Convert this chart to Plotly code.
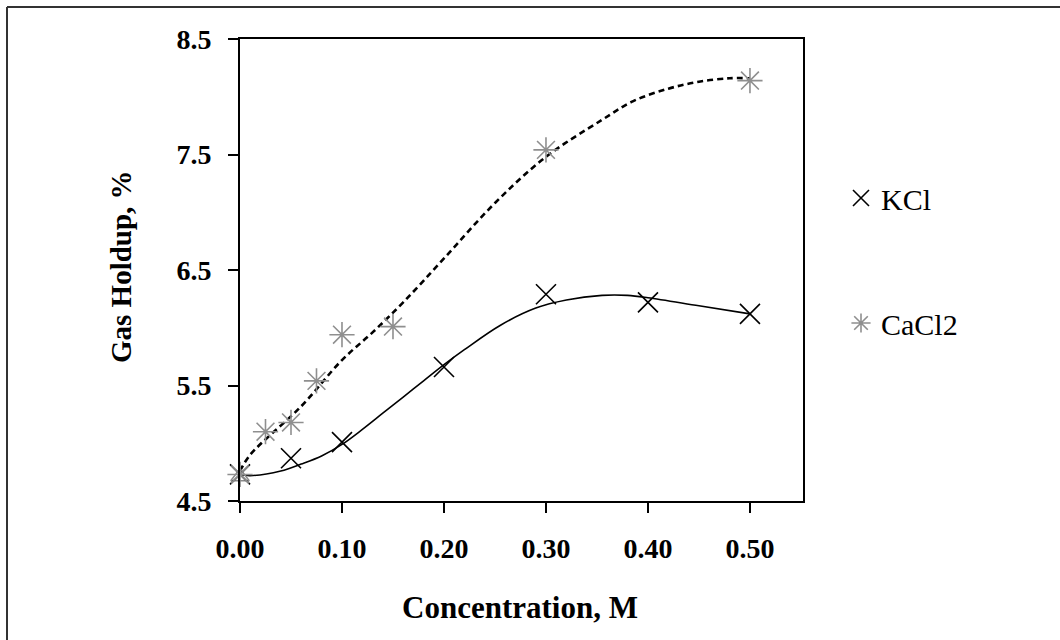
import plotly.graph_objects as go

# ---- data ----
kcl_conc = [0.00, 0.05, 0.10, 0.20, 0.30, 0.40, 0.50]
kcl_holdup = [4.73, 4.87, 5.01, 5.66, 6.29, 6.22, 6.12]

cacl2_conc = [0.00, 0.025, 0.05, 0.075, 0.10, 0.15, 0.30, 0.50]
cacl2_holdup = [4.73, 5.10, 5.18, 5.54, 5.94, 6.01, 7.54, 8.14]

base_conc = [0.00]
base_holdup = [4.71]

# trend curves
kcl_fit_conc = [0.00, 0.01, 0.04, 0.06, 0.08, 0.10, 0.12, 0.14, 0.16, 0.18, 0.20, 0.22, 0.255, 0.29, 0.32, 0.355, 0.38, 0.40, 0.45, 0.50]
kcl_fit_holdup = [4.73, 4.72, 4.76, 4.82, 4.89, 4.99, 5.12, 5.26, 5.40, 5.54, 5.68, 5.81, 6.02, 6.17, 6.24, 6.28, 6.28, 6.26, 6.19, 6.12]

cacl2_fit_conc = [0.00, 0.01, 0.06, 0.10, 0.13, 0.16, 0.20, 0.25, 0.30, 0.355, 0.385, 0.42, 0.45, 0.48, 0.50]
cacl2_fit_holdup = [4.76, 4.90, 5.32, 5.72, 5.96, 6.22, 6.60, 7.08, 7.48, 7.80, 7.96, 8.07, 8.13, 8.16, 8.16]

x_ticks = [0.0, 0.1, 0.2, 0.3, 0.4, 0.5]
y_ticks = [4.5, 5.5, 6.5, 7.5, 8.5]

SERIF = "Liberation Serif, Times New Roman, serif"

W, H = 1060, 640
L, R, T, B = 240, 257, 39, 139
pw, ph = W - L - R, H - T - B

def px(xp):
    return (xp - L) / pw

def py(yp):
    return (H - B - yp) / ph

fig = go.Figure()

fig.add_trace(go.Scatter(
    x=kcl_fit_conc, y=kcl_fit_holdup, mode="lines", line_shape="spline",
    line=dict(color="black", width=1.6), showlegend=False, hoverinfo="skip"))
fig.add_trace(go.Scatter(
    x=cacl2_fit_conc, y=cacl2_fit_holdup, mode="lines", line_shape="spline",
    line=dict(color="black", width=2.6, dash="6px,4px"), showlegend=False, hoverinfo="skip"))

fig.add_trace(go.Scatter(
    x=base_conc, y=base_holdup, mode="markers", showlegend=False, cliponaxis=False,
    marker=dict(symbol="triangle-up-open", size=16, color="#8a8a8a", line=dict(width=1.5, color="#8a8a8a"))))

fig.add_trace(go.Scatter(
    x=kcl_conc, y=kcl_holdup, mode="markers", name="KCl", cliponaxis=False,
    legendgroup="a",
    marker=dict(symbol="x-thin-open", size=20, color="black", line=dict(width=1.6, color="black"))))
fig.add_trace(go.Scatter(
    x=cacl2_conc, y=cacl2_holdup, mode="markers", name="CaCl2", cliponaxis=False,
    legendgroup="b",
    marker=dict(symbol="asterisk-open", size=21, color="#8f8f8f", line=dict(width=1.6, color="#8f8f8f"))))

axis_common = dict(
    showline=True, linecolor="black", linewidth=2, mirror=True,
    ticks="outside", ticklen=10, tickwidth=2, tickcolor="black",
    showgrid=False, zeroline=False,
    tickfont=dict(family=SERIF, size=28, color="black", weight="bold"),
    ticklabelstandoff=11,
)

fig.update_xaxes(range=[0, 0.552], tickvals=x_ticks, tickformat=".2f", **axis_common)
fig.update_yaxes(range=[4.5, 8.5], tickvals=y_ticks, tickformat=".1f", **axis_common)

# axis titles
fig.add_annotation(text="<b>Concentration, M</b>", xref="paper", yref="paper",
                   x=px(520), y=py(607), xanchor="center", yanchor="middle", showarrow=False,
                   font=dict(family=SERIF, size=31, color="black"))
fig.add_annotation(text="<b>Gas Holdup, %</b>", xref="paper", yref="paper",
                   x=px(121), y=py(267), xanchor="center", yanchor="middle", showarrow=False,
                   textangle=-90, font=dict(family=SERIF, size=29, color="black"))

# outer frame (left and top edges visible)
fig.add_shape(type="line", xref="paper", yref="paper",
              x0=px(7), x1=px(7), y0=py(645), y1=py(7),
              line=dict(color="#333333", width=2))
fig.add_shape(type="line", xref="paper", yref="paper",
              x0=px(7), x1=px(1065), y0=py(7), y1=py(7),
              line=dict(color="#333333", width=2))

fig.update_layout(
    width=W, height=H,
    margin=dict(l=L, r=R, t=T, b=B, pad=0),
    paper_bgcolor="white", plot_bgcolor="white",
    font=dict(family=SERIF, color="black"),
    legend=dict(
        x=px(841), y=py(172), xanchor="left", yanchor="top",
        font=dict(family=SERIF, size=30, color="black"),
        tracegroupgap=83, itemwidth=30, bgcolor="rgba(0,0,0,0)",
    ),
)

fig.write_html("out.html", config={"displayModeBar": False},
               post_script="document.body.style.margin='0px';")
